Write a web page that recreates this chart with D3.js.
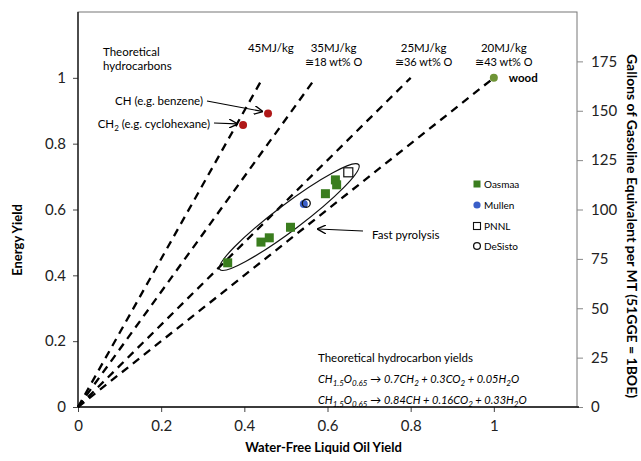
<!DOCTYPE html>
<html><head><meta charset="utf-8">
<script src="https://cdn.jsdelivr.net/npm/d3@7"></script>
<style>
body{margin:0;background:#fff;}
text{font-family:Lato,"Open Sans",sans-serif;}
</style></head>
<body><svg id="c" width="641" height="461"></svg>
<script>
// ---- data ----
const xTicks = [0, 0.2, 0.4, 0.6, 0.8, 1];
const yTicks = [0, 0.2, 0.4, 0.6, 0.8, 1];
const rTicks = [0, 25, 50, 75, 100, 125, 150, 175];
const heatValues = [45, 35, 25, 20];
const heatLabels = ["45MJ/kg", "35MJ/kg", "25MJ/kg", "20MJ/kg"];
const oxygenLabels = ["", "≅18 wt% O", "≅36 wt% O", "≅43 wt% O"];
const oasmaaX = [0.36, 0.44, 0.46, 0.511, 0.595, 0.619, 0.622];
const oasmaaY = [0.438, 0.501, 0.514, 0.546, 0.648, 0.690, 0.675];
const mullen = [0.543, 0.617];
const desisto = [0.549, 0.619];
const pnnl = [0.65, 0.713];
const wood = [1.0, 1.0];
const hydroNames = ["CH (e.g. benzene)", "CH2 (e.g. cyclohexane)"];
const hydroX = [0.457, 0.397];
const hydroY = [0.892, 0.857];
const legendNames = ["Oasmaa", "Mullen", "PNNL", "DeSisto"];

// ---- layout ----
const svg = d3.select("#c");
const L = 78, R = 577, T = 12, B = 407;
const x = d3.scaleLinear().domain([0, 1.2]).range([L, R]);
const y = d3.scaleLinear().domain([0, 1.2]).range([B, T]);
const yr = d3.scaleLinear().domain([0, 200]).range([B, T]);

const defs = svg.append("defs");
defs.append("marker").attr("id", "arr").attr("viewBox", "0 0 10 10")
  .attr("refX", 9).attr("refY", 5).attr("markerWidth", 9).attr("markerHeight", 9)
  .attr("markerUnits", "userSpaceOnUse").attr("orient", "auto")
  .append("path").attr("d", "M0,0 L10,5 L0,10").attr("fill", "none").attr("stroke", "#000").attr("stroke-width", 1.5);

// plot border
svg.append("rect").attr("x", L).attr("y", T).attr("width", R - L).attr("height", B - T)
  .attr("fill", "none").attr("stroke", "#777").attr("stroke-width", 1);

// axes
const gx = svg.append("g").attr("transform", `translate(0,${B})`)
  .call(d3.axisBottom(x).tickValues(xTicks).tickFormat(d3.format("~g")).tickSize(5).tickPadding(8));
const gy = svg.append("g").attr("transform", `translate(${L},0)`)
  .call(d3.axisLeft(y).tickValues(yTicks).tickFormat(d3.format("~g")).tickSize(5).tickPadding(7));
const gr = svg.append("g").attr("transform", `translate(${R},0)`)
  .call(d3.axisRight(yr).tickValues(rTicks).tickSize(6).tickPadding(8));
[gx, gy, gr].forEach(g => {
  g.selectAll("text").attr("font-size", 15).attr("fill", "#222").style("font-family", "Lato, sans-serif");
  g.select(".domain").remove();
});
gr.selectAll("line").attr("stroke", "#888");
gx.selectAll("line").attr("stroke", "#444");
gy.selectAll("line").attr("stroke", "#444");
svg.append("line").attr("x1", L).attr("x2", R + 2).attr("y1", B).attr("y2", B).attr("stroke", "#111").attr("stroke-width", 1.3);
svg.append("line").attr("x1", L).attr("x2", L).attr("y1", T).attr("y2", B).attr("stroke", "#111").attr("stroke-width", 1.3);

// axis titles
svg.append("text").attr("x", (L + R) / 2 - 4).attr("y", 452).attr("text-anchor", "middle")
  .attr("font-size", 13).attr("font-weight", "bold").text("Water-Free Liquid Oil Yield");
svg.append("text").attr("transform", "translate(22,240) rotate(-90)").attr("text-anchor", "middle")
  .attr("font-size", 13).attr("font-weight", "bold").text("Energy Yield");
svg.append("text").attr("transform", "translate(627,226) rotate(90)").attr("text-anchor", "middle")
  .attr("font-size", 14).attr("font-weight", "bold").text("Gallons of Gasoline Equivalent per MT (51GGE = 1BOE)");

// dashed iso-energy lines
heatValues.forEach((h, i) => {
  const xe = 20 / h;
  svg.append("line").attr("x1", x(0)).attr("y1", y(0)).attr("x2", x(xe)).attr("y2", y(1))
    .attr("stroke", "#000").attr("stroke-width", 2.3).attr("stroke-dasharray", "8,6");
  const cx = x(xe) + [8, 18, 13, 10][i];
  svg.append("text").attr("x", cx).attr("y", 52).attr("text-anchor", "middle").attr("font-size", 11.5).text(heatLabels[i]);
  if (oxygenLabels[i]) svg.append("text").attr("x", cx).attr("y", 66).attr("text-anchor", "middle").attr("font-size", 11).text(oxygenLabels[i]);
});

svg.append("text").attr("x", 103).attr("y", 56).attr("font-size", 11.5).text("Theoretical");
svg.append("text").attr("x", 103).attr("y", 70).attr("font-size", 11.5).text("hydrocarbons");

// ellipse (fast pyrolysis)
const ec = [0.508, 0.577];
svg.append("ellipse").attr("cx", 0).attr("cy", 0).attr("rx", 87).attr("ry", 13)
  .attr("transform", `translate(${x(ec[0])},${y(ec[1])}) rotate(-37)`)
  .attr("fill", "none").attr("stroke", "#111").attr("stroke-width", 1.2);

// Oasmaa squares
const green = "#3a7d1e";
oasmaaX.forEach((v, i) => {
  svg.append("rect").attr("x", x(v) - 4.5).attr("y", y(oasmaaY[i]) - 4.5).attr("width", 9).attr("height", 9).attr("fill", green);
});
// Mullen
svg.append("circle").attr("cx", x(mullen[0])).attr("cy", y(mullen[1])).attr("r", 4).attr("fill", "#3a5fc8");
// DeSisto
svg.append("circle").attr("cx", x(desisto[0])).attr("cy", y(desisto[1])).attr("r", 4).attr("fill", "none").attr("stroke", "#111").attr("stroke-width", 1.3);
// PNNL
svg.append("rect").attr("x", x(pnnl[0]) - 4.5).attr("y", y(pnnl[1]) - 4.5).attr("width", 9).attr("height", 9).attr("fill", "#fff").attr("stroke", "#111").attr("stroke-width", 1.2);
// wood
svg.append("circle").attr("cx", x(wood[0])).attr("cy", y(wood[1])).attr("r", 4).attr("fill", "#6e9436");
svg.append("text").attr("x", x(wood[0]) + 15).attr("y", y(wood[1]) + 4).attr("font-size", 11.5).attr("font-weight", "bold").text("wood");

// hydrocarbons
hydroX.forEach((v, i) => {
  svg.append("circle").attr("cx", x(v)).attr("cy", y(hydroY[i])).attr("r", 4).attr("fill", "#b01818");
});
svg.append("text").attr("x", 203).attr("y", 105).attr("text-anchor", "end").attr("font-size", 11.5).text(hydroNames[0]);
svg.append("line").attr("x1", 207).attr("y1", 101).attr("x2", x(hydroX[0]) - 6).attr("y2", y(hydroY[0]) - 2)
  .attr("stroke", "#000").attr("stroke-width", 1.2).attr("marker-end", "url(#arr)");
const t2 = svg.append("text").attr("x", 210).attr("y", 128).attr("text-anchor", "end").attr("font-size", 11.5);
t2.append("tspan").text("CH");
t2.append("tspan").attr("font-size", 8).attr("dy", 3).text("2");
t2.append("tspan").attr("dy", -3).text(" (e.g. cyclohexane)");
svg.append("line").attr("x1", 214).attr("y1", 123).attr("x2", x(hydroX[1]) - 6).attr("y2", y(hydroY[1]) - 1)
  .attr("stroke", "#000").attr("stroke-width", 1.2).attr("marker-end", "url(#arr)");

// Fast pyrolysis
svg.append("text").attr("x", 372).attr("y", 239).attr("font-size", 11.5).text("Fast pyrolysis");
svg.append("line").attr("x1", 363).attr("y1", 231).attr("x2", 318).attr("y2", 229)
  .attr("stroke", "#000").attr("stroke-width", 1.2).attr("marker-end", "url(#arr)");

// legend
const lx = 477, ly = [184, 205, 226, 246];
legendNames.forEach((n, i) => {
  const g = svg.append("g");
  if (i === 0) g.append("rect").attr("x", lx - 3.5).attr("y", ly[i] - 3.5).attr("width", 7).attr("height", 7).attr("fill", green);
  if (i === 1) g.append("circle").attr("cx", lx).attr("cy", ly[i]).attr("r", 3.6).attr("fill", "#3a5fc8");
  if (i === 2) g.append("rect").attr("x", lx - 3.5).attr("y", ly[i] - 3.5).attr("width", 7).attr("height", 7).attr("fill", "none").attr("stroke", "#111").attr("stroke-width", 1.1);
  if (i === 3) g.append("circle").attr("cx", lx).attr("cy", ly[i]).attr("r", 3.4).attr("fill", "none").attr("stroke", "#111").attr("stroke-width", 1.3);
  g.append("text").attr("x", lx + 7).attr("y", ly[i] + 4).attr("font-size", 10).text(n);
});

// formulas
svg.append("text").attr("x", 318).attr("y", 362).attr("font-size", 11.5).text("Theoretical hydrocarbon yields");
const formulas = [
  [["CH",""],["1.5","s"],["O",""],["0.65","s"],[" \u2192 ","n"],["0.7CH",""],["2","s"],[" + 0.3CO",""],["2","s"],[" + 0.05H",""],["2","s"],["O",""]],
  [["CH",""],["1.5","s"],["O",""],["0.65","s"],[" \u2192 ","n"],["0.84CH + 0.16CO",""],["2","s"],[" + 0.33H",""],["2","s"],["O",""]]
];
formulas.forEach((f, k) => {
  const t = svg.append("text").attr("x", 318).attr("y", 383 + k * 21).attr("font-size", 11).attr("font-style", "italic");
  let sub = false;
  f.forEach(([s, m]) => {
    const ts = t.append("tspan").text(s);
    if (m === "s") { ts.attr("font-size", 8).attr("dy", sub ? 0 : 3); sub = true; }
    else { if (sub) ts.attr("dy", -3); sub = false; }
    if (m === "n") ts.attr("font-style", "normal");
  });
});
</script></body></html>
